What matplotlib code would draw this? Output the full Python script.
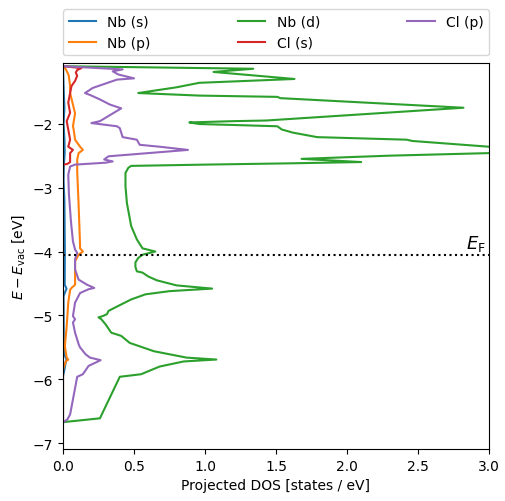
import matplotlib
matplotlib.use('Agg')
import matplotlib.pyplot as plt
import numpy as np

# Energie (eV, wzgledem prozni) i rzutowana gestosc stanow dla kazdego orbitalu
e_nb_s = [-6.67, -5.95, -5.85, -5.72, -5.69, -5.60, -4.70, -4.65, -4.58, -4.52, -4.00,
          -3.20, -2.90, -2.64, -2.45, -2.25, -2.00, -1.75, -1.65, -1.40, -1.10]
dos_nb_s = [0.0, 0.0, 0.010, 0.020, 0.026, 0.006, 0.004, 0.012, 0.025, 0.012, 0.013,
            0.010, 0.004, 0.006, 0.012, 0.010, 0.004, 0.010, 0.008, 0.004, 0.0]

e_nb_p = [-6.67, -5.85, -5.78, -5.72, -5.69, -5.66, -5.48, -5.17, -4.80, -4.60, -4.57,
          -4.52, -4.39, -4.15, -4.05, -4.00, -3.95, -3.89, -3.27, -2.75, -2.56, -2.46,
          -2.41, -2.36, -2.25, -2.09, -2.04, -1.84, -1.70, -1.52, -1.41, -1.24, -1.15, -1.10]
dos_nb_p = [0.0, 0.0, 0.010, 0.020, 0.037, 0.026, 0.013, 0.026, 0.037, 0.050, 0.060,
            0.085, 0.085, 0.085, 0.110, 0.140, 0.120, 0.120, 0.110, 0.100, 0.100, 0.110,
            0.140, 0.120, 0.085, 0.075, 0.070, 0.085, 0.070, 0.050, 0.050, 0.040, 0.020, 0.0]

e_nb_d = [-6.67, -6.61, -5.96, -5.92, -5.80, -5.72, -5.69, -5.66, -5.56, -5.43, -5.32,
          -5.27, -5.14, -5.06, -5.03, -5.01, -4.98, -4.93, -4.85, -4.75, -4.67, -4.62,
          -4.58, -4.53, -4.45, -4.39, -4.33, -4.31, -4.24, -4.17, -4.10, -4.05, -4.00,
          -3.95, -3.81, -3.60, -3.24, -2.98, -2.77, -2.69, -2.66, -2.64, -2.62, -2.60,
          -2.55, -2.50, -2.46, -2.42, -2.38, -2.36, -2.27, -2.25, -2.21, -2.14, -2.09,
          -2.04, -2.02, -2.005, -1.98, -1.96, -1.95, -1.75, -1.60, -1.58, -1.56, -1.52,
          -1.43, -1.36, -1.30, -1.19, -1.14, -1.10]
dos_nb_d = [0.0, 0.26, 0.40, 0.55, 0.68, 0.85, 1.08, 0.87, 0.64, 0.47, 0.41,
            0.34, 0.30, 0.27, 0.25, 0.28, 0.31, 0.32, 0.39, 0.48, 0.58, 0.75,
            1.05, 0.80, 0.66, 0.60, 0.56, 0.52, 0.51, 0.51, 0.53, 0.56, 0.65,
            0.56, 0.52, 0.48, 0.45, 0.44, 0.44, 0.46, 0.48, 1.00, 1.60, 2.10,
            1.68, 2.30, 3.00, 3.40, 3.05, 3.00, 2.46, 2.42, 1.79, 1.62, 1.54,
            1.51, 1.20, 0.96, 0.89, 1.20, 1.43, 2.82, 1.53, 1.51, 0.96, 0.53,
            0.80, 0.96, 1.63, 1.06, 1.34, 0.0]

e_cl_s = [-6.67, -2.64, -2.63, -2.60, -2.50, -2.46, -2.41, -2.36, -2.25, -2.09, -1.96,
          -1.83, -1.67, -1.52, -1.41, -1.33, -1.25, -1.20, -1.16, -1.13, -1.10]
dos_cl_s = [0.0, 0.0, 0.030, 0.050, 0.050, 0.050, 0.070, 0.037, 0.050, 0.037, 0.026,
            0.050, 0.037, 0.050, 0.060, 0.085, 0.100, 0.090, 0.100, 0.130, 0.0]

e_cl_p = [-6.67, -6.63, -6.55, -5.96, -5.92, -5.79, -5.70, -5.66, -5.61, -5.50, -5.45,
          -5.27, -5.11, -5.06, -5.01, -4.80, -4.65, -4.59, -4.57, -4.52, -4.44, -4.28,
          -4.12, -4.02, -3.97, -3.84, -3.53, -3.11, -2.80, -2.67, -2.64, -2.61, -2.59,
          -2.56, -2.51, -2.41, -2.36, -2.33, -2.25, -2.21, -2.07, -2.04, -1.99, -1.96,
          -1.76, -1.70, -1.62, -1.55, -1.52, -1.44, -1.31, -1.29, -1.23, -1.18, -1.15,
          -1.10]
dos_cl_p = [0.0, 0.03, 0.05, 0.10, 0.14, 0.18, 0.265, 0.19, 0.16, 0.12, 0.11,
            0.085, 0.07, 0.085, 0.07, 0.085, 0.12, 0.18, 0.22, 0.17, 0.11, 0.085,
            0.085, 0.10, 0.085, 0.07, 0.056, 0.042, 0.037, 0.05, 0.085, 0.30, 0.35,
            0.29, 0.32, 0.88, 0.68, 0.54, 0.52, 0.42, 0.40, 0.38, 0.20, 0.26,
            0.41, 0.33, 0.26, 0.19, 0.155, 0.21, 0.38, 0.50, 0.39, 0.35, 0.42,
            0.0]

e_fermi = -4.05

fig = plt.figure(figsize=(5.06, 5.02), dpi=100)
ax = fig.add_axes([63 / 506, 1 - 450 / 502, 426 / 506, 386 / 502])

ax.plot(dos_nb_s, e_nb_s, label='Nb (s)')
ax.plot(dos_nb_p, e_nb_p, label='Nb (p)')
ax.plot(dos_nb_d, e_nb_d, label='Nb (d)')
ax.plot(dos_cl_s, e_cl_s, label='Cl (s)')
ax.plot(dos_cl_p, e_cl_p, label='Cl (p)')

ax.axhline(e_fermi, linestyle=':', color='k')
ax.text(2.975, e_fermi + 0.02, r'$E_\mathrm{F}$', ha='right', va='bottom', fontsize=13)

ax.set_xlim(0, 3.0)
ax.set_ylim(-7.09, -1.05)
ax.set_xticks(np.arange(0, 3.01, 0.5))
ax.set_yticks(np.arange(-7, -1.5, 1))

ax.set_xlabel('Projected DOS [states / eV]')
ax.set_ylabel(r'$E - E_\mathrm{vac}$ [eV]')

ax.legend(bbox_to_anchor=(0., 1.02, 1., .102), loc='lower left', ncol=3,
          mode='expand', borderaxespad=0.)

plt.savefig('out.png', dpi=100)
